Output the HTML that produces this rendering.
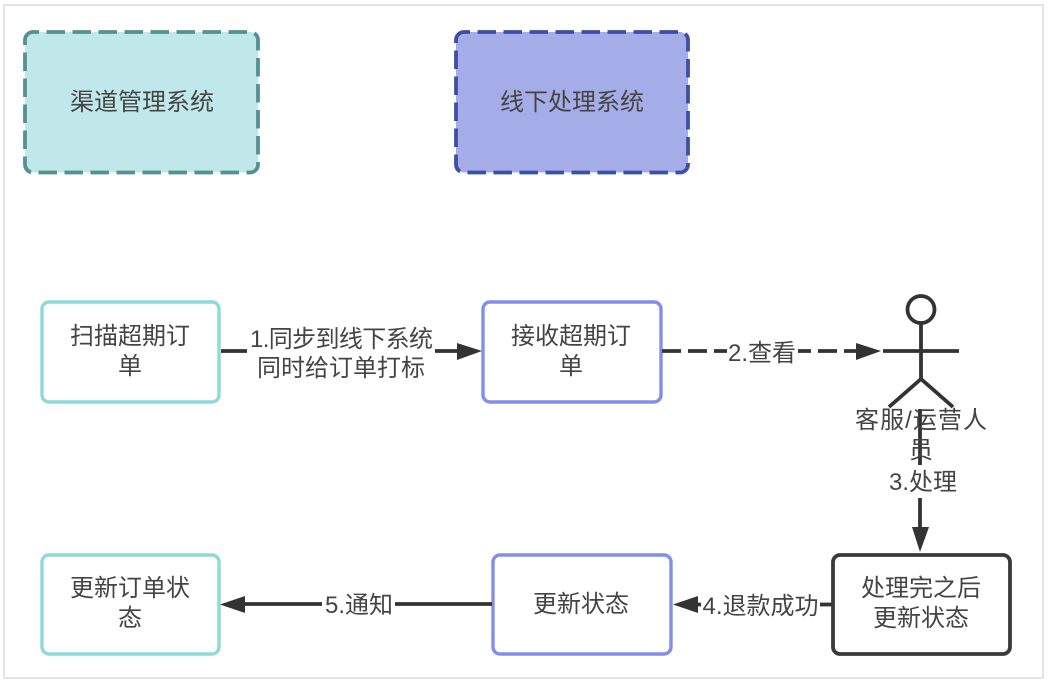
<!DOCTYPE html>
<html><head><meta charset="utf-8">
<style>
html,body{margin:0;padding:0;background:#fff;width:1048px;height:683px;overflow:hidden}
svg{display:block;filter:blur(0.35px)}
text{font-family:"Liberation Sans","Noto Sans CJK SC",sans-serif;font-size:24px;fill:#444;text-anchor:middle}
</style></head><body>
<svg width="1048" height="683" viewBox="0 0 1048 683" xmlns="http://www.w3.org/2000/svg">
<rect x="0" y="0" width="1048" height="683" fill="#fff"/>
<rect x="4" y="5" width="1039" height="673" fill="#fff" stroke="#e4e4e4" stroke-width="2"/>

<rect x="25" y="32" width="233" height="140.500" rx="8" fill="#c0e8ea" stroke="#559092" stroke-width="3.800" stroke-dasharray="18.500 7.500" stroke-dashoffset="12.500"/>
<text x="142" y="110">渠道管理系统</text>
<rect x="456" y="32" width="232" height="140.500" rx="8" fill="#a5ade9" stroke="#3d4fa3" stroke-width="3.800" stroke-dasharray="18.500 7.500" stroke-dashoffset="12.500"/>
<text x="572" y="110">线下处理系统</text>

<g fill="#fff" stroke-width="3.400">
<rect x="42" y="302" width="177" height="100" rx="7" stroke="#8fd8dc"/>
<rect x="483" y="302" width="178" height="100" rx="7" stroke="#838eea"/>
<rect x="42" y="555" width="177" height="99" rx="7" stroke="#8fd8dc"/>
<rect x="493" y="555" width="178" height="99" rx="7" stroke="#838eea"/>
<rect x="833" y="555" width="177" height="99" rx="7" stroke="#3a3a3a" stroke-width="3.800"/>
</g>
<text x="130" y="344">扫描超期订</text><text x="130" y="374">单</text>
<text x="571" y="344">接收超期订</text><text x="571" y="374">单</text>
<text x="130" y="596">更新订单状</text><text x="130" y="626">态</text>
<text x="581" y="612">更新状态</text>
<text x="921" y="596">处理完之后</text><text x="921" y="626">更新状态</text>

<g stroke="#333" stroke-width="3.800" fill="none">
<path d="M221 351H247"/>
<path d="M435 351H458"/>
<path d="M662 351H727" stroke-dasharray="19 7"/>
<path d="M792 351H857" stroke-dasharray="19 7"/>
<path d="M920 409V465"/>
<path d="M920 498V528"/>
<path d="M832 604.500H820"/>
<path d="M701 604.500H696"/>
<path d="M492 604H395"/>
<path d="M322 604H243"/>
</g>
<rect x="727" y="340" width="71" height="22" fill="#fff"/>
<g fill="#333">
<path d="M482 351L457 343V360Z"/>
<path d="M881 351L856 343V360Z"/>
<path d="M920 552L912 527H929Z"/>
<path d="M673 604.500L698 596V613Z"/>
<path d="M220 604.500L245 596V613Z"/>
</g>

<circle cx="921" cy="309.500" r="13.500" fill="#fff" stroke="#333" stroke-width="3.800"/>
<g stroke="#333" stroke-width="3.800" fill="none">
<path d="M921 324V379"/>
<path d="M883 351H959"/>
<path d="M889 407L921 379L953 407"/>
</g>

<text x="921" y="428" textLength="132" lengthAdjust="spacing">客服/运营人</text>
<text x="921" y="458">员</text>
<text x="923" y="490">3.处理</text>
<text x="341.500" y="347" textLength="183" lengthAdjust="spacing">1.同步到线下系统</text>
<text x="341" y="376">同时给订单打标</text>
<text x="762" y="361">2.查看</text>
<text x="760.500" y="614">4.退款成功</text>
<text x="359" y="613">5.通知</text>
</svg>
</body></html>
